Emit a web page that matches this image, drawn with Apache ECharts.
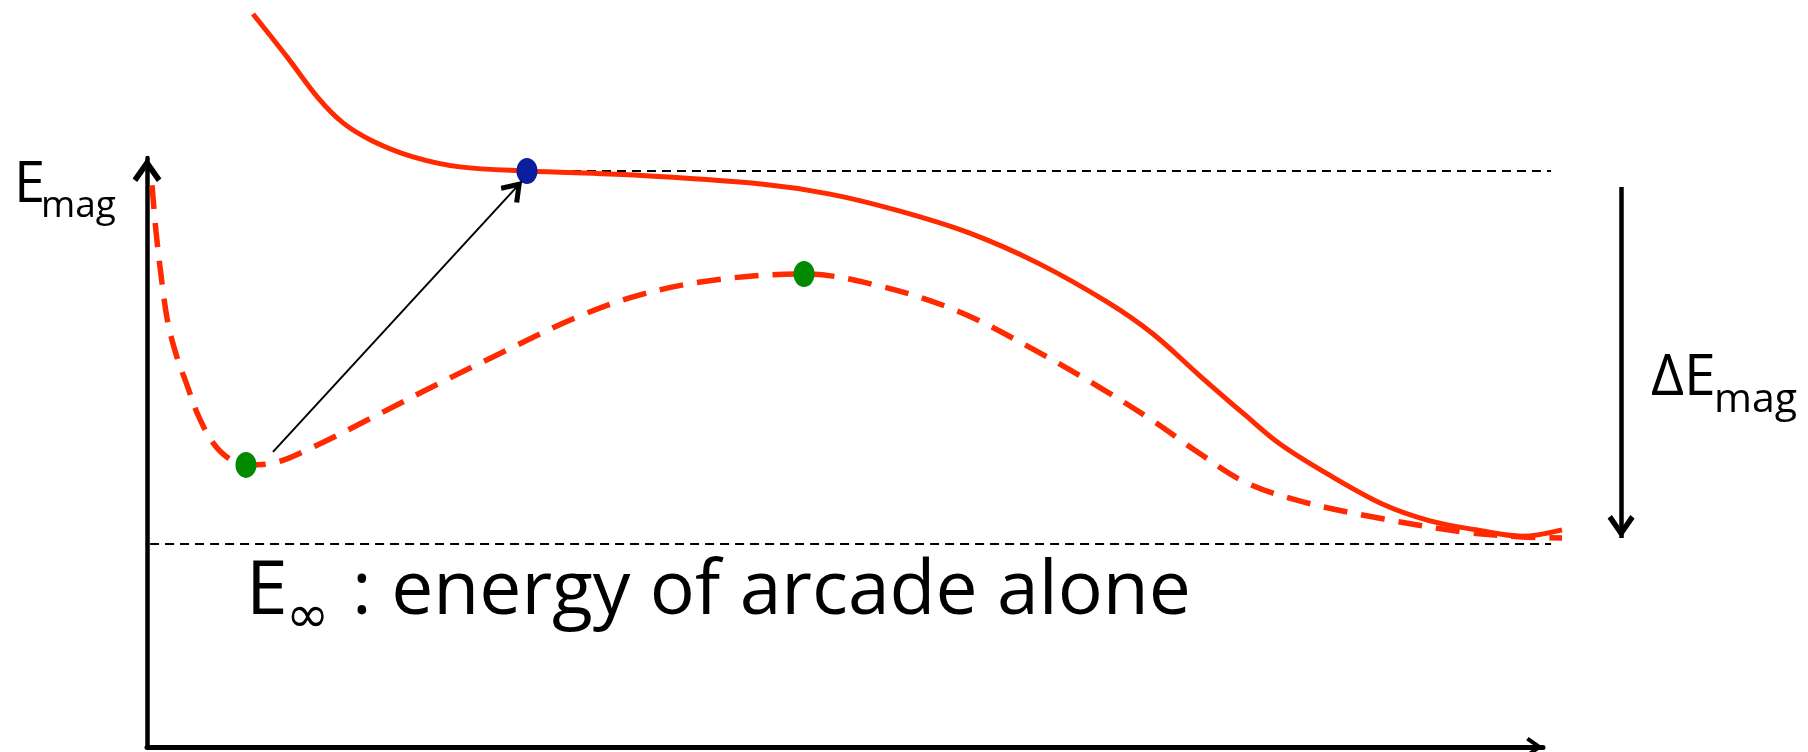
<!DOCTYPE html>
<html>
<head>
<meta charset="utf-8">
<script src="https://cdn.jsdelivr.net/npm/echarts@6/dist/echarts.min.js"></script>
<style>
  html, body { margin: 0; padding: 0; background: #ffffff; }
  #chart { width: 1808px; height: 752px; }
</style>
</head>
<body>
<div id="chart"></div>
<script>
// Magnetic energy of the system against the height of the flux rope.
// Energy unit: E_inf (arcade alone) = 0, upper (jump) level = 100.

// Upper branch (solid red)
const solidX = [7.64, 10.07, 12.29, 14.07, 16.21, 19.07, 22.43, 27.21, 34.86, 43.93, 48.86, 53.79, 58.79,
                63.71, 68.64, 71.93, 75.21, 78.5, 81.0, 84.29, 88.43, 91.71, 95.0, 98.29, 101.14];
const solidY = [142.1, 130.6, 119.6, 112.9, 108.0, 103.8, 101.1, 100.0, 98.9, 96.5, 93.8, 89.3, 83.4,
                75.3, 64.9, 56.3, 45.3, 34.6, 26.8, 19.0, 10.5, 6.2, 3.8, 2.1, 3.8];

// Lower branch (dashed red)
const dashedX = [0.43, 0.71, 1.14, 1.57, 2.21, 2.93, 3.71, 4.79, 5.86, 7.14, 9.07, 11.93, 16.21, 21.0, 25.79,
                 30.64, 35.29, 40.64, 47.0, 52.14, 57.93, 63.71, 68.64, 71.93, 75.21, 78.5, 82.64, 88.43,
                 94.14, 98.29, 101.14];
const dashedY = [96.2, 83.9, 70.0, 59.2, 50.1, 42.6, 34.6, 27.1, 23.1, 21.2, 21.7, 26.0, 34.0, 43.2, 52.0,
                 60.6, 66.8, 70.8, 72.4, 69.4, 62.5, 51.5, 40.8, 33.0, 24.4, 16.6, 11.3, 6.7,
                 3.2, 1.9, 1.6];

// Equilibria on the lower branch (green) and the state reached on the upper branch (blue)
const greenX = [7.14, 47.0];
const greenY = [21.2, 72.4];
const blueX = [27.21];
const blueY = [100.0];

// Reference energy levels
const upperLevel = 100;
const arcadeLevel = 0;
const upperLevelX = [27.21, 100.36];
const arcadeLevelX = [0.29, 100.36];

// Transition arrow (green equilibrium -> blue state) and the Delta E arrow
const jumpFrom = [9.07, 24.7];
const jumpTo = [26.86, 97.3];
const deltaX = 105.36;
const deltaFromY = 95.7;
const deltaToY = 1.6;

// Labels
const yLabel = ['E', 'mag'];
const deltaLabel = ['\u0394E', 'mag'];
const infLabel = ['E', '\u221E', ': energy of arcade alone'];

const RED = '#ff2a00';
const FONT = '"Open Sans", "Noto Sans", sans-serif';
// open chevron arrowhead, pointing up
const CHEVRON = 'path://M12,0 L24,17 L20.2,20 L12,8.3 L3.8,20 L0,17 Z';

const zip = (xs, ys) => xs.map((x, i) => [x, ys[i]]);

const chart = echarts.init(document.getElementById('chart'), null, { renderer: 'canvas' });

const hiddenAxis = (idx, min, max) => ({
  type: 'value', gridIndex: idx, min: min, max: max, show: false,
  splitLine: { show: false }, axisLabel: { show: false }, axisTick: { show: false }
});

const option = {
  animation: false,
  backgroundColor: '#ffffff',
  grid: [
    // frame for the drawn axes
    { left: 147, top: 158, right: 265, bottom: 5, outerBoundsMode: 'none', containLabel: false },
    // plotting area (whole canvas)
    { left: 0, top: 0, right: 0, bottom: 0, outerBoundsMode: 'none', containLabel: false }
  ],
  xAxis: [
    {
      type: 'value', gridIndex: 0, min: 0, max: 100,
      axisLine: { show: true, onZero: false, symbol: ['none', CHEVRON], symbolSize: [20, 17], symbolOffset: [0, -8.5],
                  lineStyle: { color: '#000', width: 5 } },
      axisTick: { show: false }, axisLabel: { show: false }, splitLine: { show: false }
    },
    hiddenAxis(1, -10.43, 118.71)
  ],
  yAxis: [
    {
      type: 'value', gridIndex: 0, min: 0, max: 100,
      axisLine: { show: true, onZero: false, symbol: ['none', CHEVRON], symbolSize: [29, 24], symbolOffset: [0, -12],
                  lineStyle: { color: '#000', width: 4.5 } },
      axisTick: { show: false }, axisLabel: { show: false }, splitLine: { show: false }
    },
    hiddenAxis(1, -55.76, 145.84)
  ],
  series: [
    {
      name: 'upper level', type: 'line', xAxisIndex: 1, yAxisIndex: 1, silent: true,
      data: upperLevelX.map(x => [x, upperLevel]), symbol: 'none',
      lineStyle: { color: '#000', width: 2, type: [9, 6] }, z: 1
    },
    {
      name: 'arcade level', type: 'line', xAxisIndex: 1, yAxisIndex: 1, silent: true,
      data: arcadeLevelX.map(x => [x, arcadeLevel]), symbol: 'none',
      lineStyle: { color: '#000', width: 2, type: [9, 6] }, z: 1
    },
    {
      name: 'upper branch', type: 'line', xAxisIndex: 1, yAxisIndex: 1, silent: true,
      data: zip(solidX, solidY), smooth: 0.35, symbol: 'none',
      lineStyle: { color: RED, width: 5 }, z: 2
    },
    {
      name: 'lower branch', type: 'line', xAxisIndex: 1, yAxisIndex: 1, silent: true,
      data: zip(dashedX, dashedY), smooth: 0.35, symbol: 'none',
      lineStyle: { color: RED, width: 5.5, type: [24, 14], cap: 'butt' }, z: 2
    },
    {
      name: 'arrows', type: 'line', xAxisIndex: 1, yAxisIndex: 1, silent: true, data: [], z: 3,
      markLine: {
        silent: true, animation: false,
        label: { show: false },
        emphasis: { disabled: true },
        symbol: ['none', CHEVRON],
        data: [
          [
            { coord: jumpFrom, lineStyle: { color: '#000', width: 2, type: 'solid' } },
            { coord: jumpTo, symbol: CHEVRON, symbolSize: [25, 21], symbolOffset: [0, 10.5] }
          ],
          [
            { coord: [deltaX, deltaFromY], lineStyle: { color: '#000', width: 4.5, type: 'solid' } },
            { coord: [deltaX, deltaToY], symbol: CHEVRON, symbolSize: [27, 23], symbolOffset: [0, 11.5] }
          ]
        ]
      }
    },
    {
      name: 'equilibria', type: 'scatter', xAxisIndex: 1, yAxisIndex: 1, silent: true,
      data: zip(greenX, greenY), symbol: 'circle', symbolSize: [21, 26],
      itemStyle: { color: '#008a00', opacity: 1 }, z: 4
    },
    {
      name: 'jump state', type: 'scatter', xAxisIndex: 1, yAxisIndex: 1, silent: true,
      data: zip(blueX, blueY), symbol: 'circle', symbolSize: [21, 26],
      itemStyle: { color: '#0a1f9e', opacity: 1 }, z: 4
    }
  ],
  graphic: [
    { type: 'text', left: 14, top: 158, style: { text: yLabel[0], font: '56px ' + FONT, fill: '#000' } },
    { type: 'text', left: 41, top: 188, style: { text: yLabel[1], font: '37px ' + FONT, fill: '#000' } },
    { type: 'text', left: 1651, top: 350, style: { text: deltaLabel[0], font: '57px ' + FONT, fill: '#000' } },
    { type: 'text', left: 1714, top: 380, style: { text: deltaLabel[1], font: '41px ' + FONT, fill: '#000' } },
    { type: 'text', left: 246, top: 555, style: { text: infLabel[0], font: '75px ' + FONT, fill: '#000' } },
    { type: 'text', left: 286, top: 592, style: { text: infLabel[1], font: '52px "DejaVu Sans", sans-serif', fill: '#000' } },
    { type: 'text', left: 352, top: 555, style: { text: infLabel[2], font: '75px ' + FONT, fill: '#000' } }
  ]
};

chart.setOption(option);
</script>
</body>
</html>
